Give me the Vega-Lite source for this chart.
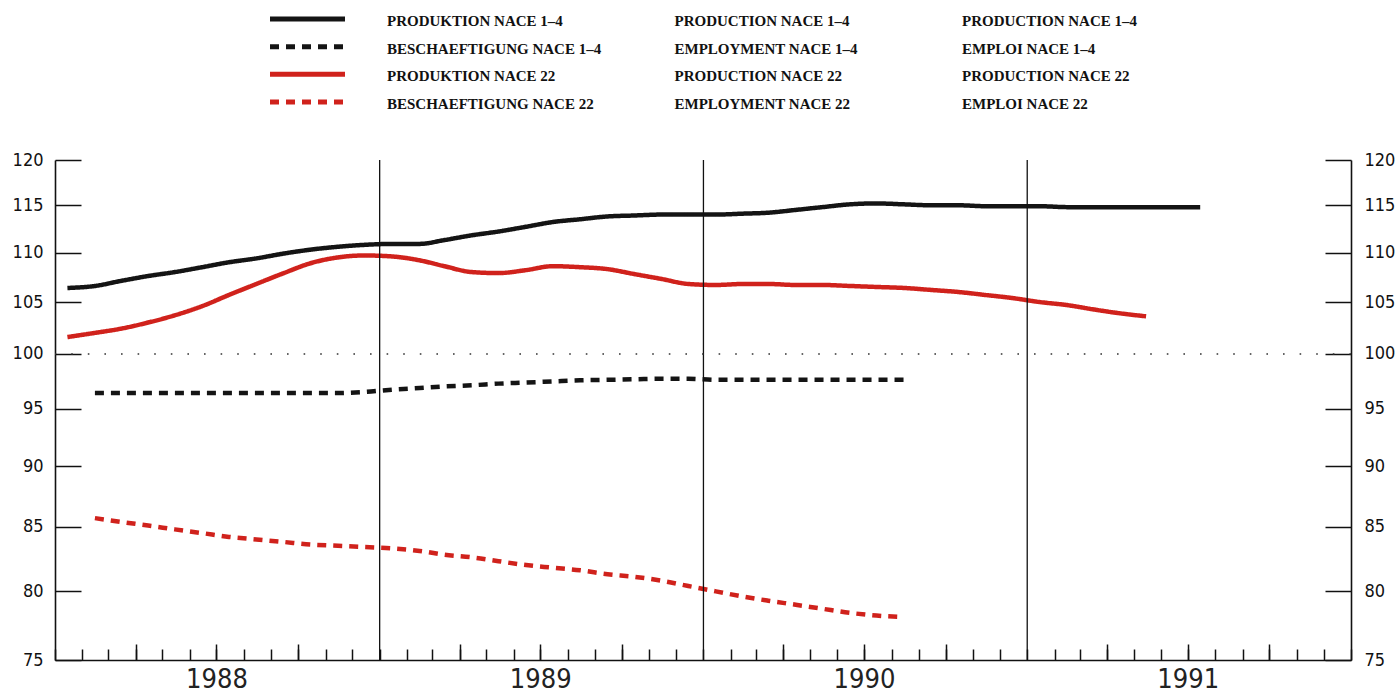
{
  "$schema": "https://vega.github.io/schema/vega-lite/v6.json",
  "width": 1296,
  "height": 500,
  "autosize": {"type": "none"},
  "padding": {"left": 55, "top": 160, "right": 46, "bottom": 35},
  "background": "#ffffff",
  "config": {"view": {"stroke": null}},
  "datasets": {
    "main": [
      {"d": "1988-01-15", "s": "P14", "v": 106.4}, {"d": "1988-02-15", "s": "P14", "v": 106.6}, {"d": "1988-03-15", "s": "P14", "v": 107.1}, {"d": "1988-04-15", "s": "P14", "v": 107.6}, {"d": "1988-05-15", "s": "P14", "v": 108.0}, {"d": "1988-06-15", "s": "P14", "v": 108.5}, {"d": "1988-07-15", "s": "P14", "v": 109.0}, {"d": "1988-08-15", "s": "P14", "v": 109.4}, {"d": "1988-09-15", "s": "P14", "v": 109.9}, {"d": "1988-10-15", "s": "P14", "v": 110.3}, {"d": "1988-11-15", "s": "P14", "v": 110.6}, {"d": "1988-12-15", "s": "P14", "v": 110.8},
      {"d": "1989-01-15", "s": "P14", "v": 110.9}, {"d": "1989-02-15", "s": "P14", "v": 110.9}, {"d": "1989-03-15", "s": "P14", "v": 111.3}, {"d": "1989-04-15", "s": "P14", "v": 111.8}, {"d": "1989-05-15", "s": "P14", "v": 112.2}, {"d": "1989-06-15", "s": "P14", "v": 112.7}, {"d": "1989-07-15", "s": "P14", "v": 113.2}, {"d": "1989-08-15", "s": "P14", "v": 113.5}, {"d": "1989-09-15", "s": "P14", "v": 113.8}, {"d": "1989-10-15", "s": "P14", "v": 113.9}, {"d": "1989-11-15", "s": "P14", "v": 114.0}, {"d": "1989-12-15", "s": "P14", "v": 114.0},
      {"d": "1990-01-15", "s": "P14", "v": 114.0}, {"d": "1990-02-15", "s": "P14", "v": 114.1}, {"d": "1990-03-15", "s": "P14", "v": 114.2}, {"d": "1990-04-15", "s": "P14", "v": 114.5}, {"d": "1990-05-15", "s": "P14", "v": 114.8}, {"d": "1990-06-15", "s": "P14", "v": 115.1}, {"d": "1990-07-15", "s": "P14", "v": 115.2}, {"d": "1990-08-15", "s": "P14", "v": 115.1}, {"d": "1990-09-15", "s": "P14", "v": 115.0}, {"d": "1990-10-15", "s": "P14", "v": 115.0}, {"d": "1990-11-15", "s": "P14", "v": 114.9}, {"d": "1990-12-15", "s": "P14", "v": 114.9},
      {"d": "1991-01-15", "s": "P14", "v": 114.9}, {"d": "1991-02-15", "s": "P14", "v": 114.8}, {"d": "1991-03-15", "s": "P14", "v": 114.8}, {"d": "1991-04-15", "s": "P14", "v": 114.8}, {"d": "1991-05-15", "s": "P14", "v": 114.8}, {"d": "1991-06-15", "s": "P14", "v": 114.8}, {"d": "1991-07-15", "s": "P14", "v": 114.8},

      {"d": "1988-01-15", "s": "P22", "v": 101.6}, {"d": "1988-02-15", "s": "P22", "v": 102.0}, {"d": "1988-03-15", "s": "P22", "v": 102.4}, {"d": "1988-04-15", "s": "P22", "v": 103.0}, {"d": "1988-05-15", "s": "P22", "v": 103.7}, {"d": "1988-06-15", "s": "P22", "v": 104.6}, {"d": "1988-07-15", "s": "P22", "v": 105.7}, {"d": "1988-08-15", "s": "P22", "v": 106.8}, {"d": "1988-09-15", "s": "P22", "v": 107.9}, {"d": "1988-10-15", "s": "P22", "v": 108.9}, {"d": "1988-11-15", "s": "P22", "v": 109.5}, {"d": "1988-12-15", "s": "P22", "v": 109.7},
      {"d": "1989-01-15", "s": "P22", "v": 109.6}, {"d": "1989-02-15", "s": "P22", "v": 109.2}, {"d": "1989-03-15", "s": "P22", "v": 108.6}, {"d": "1989-04-15", "s": "P22", "v": 108.0}, {"d": "1989-05-15", "s": "P22", "v": 107.9}, {"d": "1989-06-15", "s": "P22", "v": 108.2}, {"d": "1989-07-15", "s": "P22", "v": 108.6}, {"d": "1989-08-15", "s": "P22", "v": 108.5}, {"d": "1989-09-15", "s": "P22", "v": 108.3}, {"d": "1989-10-15", "s": "P22", "v": 107.8}, {"d": "1989-11-15", "s": "P22", "v": 107.3}, {"d": "1989-12-15", "s": "P22", "v": 106.8},
      {"d": "1990-01-15", "s": "P22", "v": 106.7}, {"d": "1990-02-15", "s": "P22", "v": 106.8}, {"d": "1990-03-15", "s": "P22", "v": 106.8}, {"d": "1990-04-15", "s": "P22", "v": 106.7}, {"d": "1990-05-15", "s": "P22", "v": 106.7}, {"d": "1990-06-15", "s": "P22", "v": 106.6}, {"d": "1990-07-15", "s": "P22", "v": 106.5}, {"d": "1990-08-15", "s": "P22", "v": 106.4}, {"d": "1990-09-15", "s": "P22", "v": 106.2}, {"d": "1990-10-15", "s": "P22", "v": 106.0}, {"d": "1990-11-15", "s": "P22", "v": 105.7}, {"d": "1990-12-15", "s": "P22", "v": 105.4},
      {"d": "1991-01-15", "s": "P22", "v": 105.0}, {"d": "1991-02-15", "s": "P22", "v": 104.7}, {"d": "1991-03-15", "s": "P22", "v": 104.3}, {"d": "1991-04-15", "s": "P22", "v": 103.9}, {"d": "1991-05-15", "s": "P22", "v": 103.6},

      {"d": "1988-02-15", "s": "E14", "v": 96.4}, {"d": "1988-03-15", "s": "E14", "v": 96.4}, {"d": "1988-04-15", "s": "E14", "v": 96.4}, {"d": "1988-05-15", "s": "E14", "v": 96.4}, {"d": "1988-06-15", "s": "E14", "v": 96.4}, {"d": "1988-07-15", "s": "E14", "v": 96.4}, {"d": "1988-08-15", "s": "E14", "v": 96.4}, {"d": "1988-09-15", "s": "E14", "v": 96.4}, {"d": "1988-10-15", "s": "E14", "v": 96.4}, {"d": "1988-11-15", "s": "E14", "v": 96.4}, {"d": "1988-12-15", "s": "E14", "v": 96.5},
      {"d": "1989-01-15", "s": "E14", "v": 96.7}, {"d": "1989-02-15", "s": "E14", "v": 96.85}, {"d": "1989-03-15", "s": "E14", "v": 97.0}, {"d": "1989-04-15", "s": "E14", "v": 97.1}, {"d": "1989-05-15", "s": "E14", "v": 97.25}, {"d": "1989-06-15", "s": "E14", "v": 97.35}, {"d": "1989-07-15", "s": "E14", "v": 97.45}, {"d": "1989-08-15", "s": "E14", "v": 97.55}, {"d": "1989-09-15", "s": "E14", "v": 97.6}, {"d": "1989-10-15", "s": "E14", "v": 97.65}, {"d": "1989-11-15", "s": "E14", "v": 97.7}, {"d": "1989-12-15", "s": "E14", "v": 97.7},
      {"d": "1990-01-15", "s": "E14", "v": 97.6}, {"d": "1990-02-15", "s": "E14", "v": 97.6}, {"d": "1990-03-15", "s": "E14", "v": 97.6}, {"d": "1990-04-15", "s": "E14", "v": 97.6}, {"d": "1990-05-15", "s": "E14", "v": 97.6}, {"d": "1990-06-15", "s": "E14", "v": 97.6}, {"d": "1990-07-15", "s": "E14", "v": 97.6}, {"d": "1990-08-15", "s": "E14", "v": 97.6},

      {"d": "1988-02-15", "s": "E22", "v": 85.7}, {"d": "1988-03-15", "s": "E22", "v": 85.4}, {"d": "1988-04-15", "s": "E22", "v": 85.1}, {"d": "1988-05-15", "s": "E22", "v": 84.8}, {"d": "1988-06-15", "s": "E22", "v": 84.5}, {"d": "1988-07-15", "s": "E22", "v": 84.2}, {"d": "1988-08-15", "s": "E22", "v": 84.0}, {"d": "1988-09-15", "s": "E22", "v": 83.8}, {"d": "1988-10-15", "s": "E22", "v": 83.6}, {"d": "1988-11-15", "s": "E22", "v": 83.5}, {"d": "1988-12-15", "s": "E22", "v": 83.4},
      {"d": "1989-01-15", "s": "E22", "v": 83.3}, {"d": "1989-02-15", "s": "E22", "v": 83.1}, {"d": "1989-03-15", "s": "E22", "v": 82.8}, {"d": "1989-04-15", "s": "E22", "v": 82.6}, {"d": "1989-05-15", "s": "E22", "v": 82.3}, {"d": "1989-06-15", "s": "E22", "v": 82.0}, {"d": "1989-07-15", "s": "E22", "v": 81.8}, {"d": "1989-08-15", "s": "E22", "v": 81.6}, {"d": "1989-09-15", "s": "E22", "v": 81.3}, {"d": "1989-10-15", "s": "E22", "v": 81.1}, {"d": "1989-11-15", "s": "E22", "v": 80.8}, {"d": "1989-12-15", "s": "E22", "v": 80.4},
      {"d": "1990-01-15", "s": "E22", "v": 80.0}, {"d": "1990-02-15", "s": "E22", "v": 79.6}, {"d": "1990-03-15", "s": "E22", "v": 79.3}, {"d": "1990-04-15", "s": "E22", "v": 79.0}, {"d": "1990-05-15", "s": "E22", "v": 78.7}, {"d": "1990-06-15", "s": "E22", "v": 78.4}, {"d": "1990-07-15", "s": "E22", "v": 78.2}, {"d": "1990-08-15", "s": "E22", "v": 78.1}
    ],
    "years": [{"d": "1989-01-01"}, {"d": "1990-01-01"}, {"d": "1991-01-01"}],
    "ref": [{"v": 100}],
    "legsym": [
      {"s": "P14", "k": 0}, {"s": "P14", "k": 1},
      {"s": "E14", "k": 0}, {"s": "E14", "k": 1},
      {"s": "P22", "k": 0}, {"s": "P22", "k": 1},
      {"s": "E22", "k": 0}, {"s": "E22", "k": 1}
    ],
    "legtxt": [
      {"s": "P14", "lang": "de", "t": "PRODUKTION NACE 1–4"},
      {"s": "E14", "lang": "de", "t": "BESCHAEFTIGUNG NACE 1–4"},
      {"s": "P22", "lang": "de", "t": "PRODUKTION NACE 22"},
      {"s": "E22", "lang": "de", "t": "BESCHAEFTIGUNG NACE 22"},
      {"s": "P14", "lang": "en", "t": "PRODUCTION NACE 1–4"},
      {"s": "E14", "lang": "en", "t": "EMPLOYMENT NACE 1–4"},
      {"s": "P22", "lang": "en", "t": "PRODUCTION NACE 22"},
      {"s": "E22", "lang": "en", "t": "EMPLOYMENT NACE 22"},
      {"s": "P14", "lang": "fr", "t": "PRODUCTION NACE 1–4"},
      {"s": "E14", "lang": "fr", "t": "EMPLOI NACE 1–4"},
      {"s": "P22", "lang": "fr", "t": "PRODUCTION NACE 22"},
      {"s": "E22", "lang": "fr", "t": "EMPLOI NACE 22"}
    ]
  },
  "layer": [
    {
      "layer": [
        {
          "data": {"name": "main"},
          "mark": {"type": "line", "interpolate": "monotone", "strokeWidth": 4.5},
          "encoding": {
            "x": {
              "field": "d", "type": "temporal",
              "scale": {"type": "utc", "domain": [{"year": 1988, "month": 1, "date": 1, "utc": true}, {"year": 1992, "month": 1, "date": 1, "utc": true}]},
              "axis": {"orient": "bottom", "title": null, "labels": false, "grid": false, "tickCount": {"interval": "month", "step": 1}, "tickSize": -11, "tickWidth": 1.5, "tickColor": "#111", "domain": true, "domainColor": "#111", "domainWidth": 1.6}
            },
            "y": {
              "field": "v", "type": "quantitative",
              "scale": {"type": "log", "domain": [75, 120], "nice": false},
              "axis": {"orient": "left", "title": null, "grid": false, "values": [75, 80, 85, 90, 95, 100, 105, 110, 115, 120], "tickSize": -26, "tickWidth": 1.5, "tickColor": "#111", "domainColor": "#111", "domainWidth": 1.6, "labelPadding": 38, "labelFlush": false, "labelFont": "DejaVu Sans Condensed, sans-serif", "labelFontSize": 18, "labelColor": "#111"}
            },
            "color": {"field": "s", "type": "nominal", "scale": {"domain": ["P14", "E14", "P22", "E22"], "range": ["#141414", "#141414", "#d0221c", "#d0221c"]}, "legend": null},
            "strokeDash": {"field": "s", "type": "nominal", "scale": {"domain": ["P14", "E14", "P22", "E22"], "range": [[1, 0], [9, 7], [1, 0], [9, 7]]}, "legend": null}
          }
        },
        {
          "data": {"name": "years"},
          "mark": {"type": "rule", "color": "#111", "strokeWidth": 1.3},
          "encoding": {
            "x": {
              "field": "d", "type": "temporal",
              "scale": {"type": "utc", "domain": [{"year": 1988, "month": 1, "date": 1, "utc": true}, {"year": 1992, "month": 1, "date": 1, "utc": true}]},
              "axis": {
                "orient": "bottom", "title": null, "grid": false, "domain": false,
                "values": [
                  {"year": 1988, "month": 4, "date": 1, "utc": true}, {"year": 1988, "month": 7, "date": 1, "utc": true}, {"year": 1988, "month": 10, "date": 1, "utc": true},
                  {"year": 1989, "month": 4, "date": 1, "utc": true}, {"year": 1989, "month": 7, "date": 1, "utc": true}, {"year": 1989, "month": 10, "date": 1, "utc": true},
                  {"year": 1990, "month": 4, "date": 1, "utc": true}, {"year": 1990, "month": 7, "date": 1, "utc": true}, {"year": 1990, "month": 10, "date": 1, "utc": true},
                  {"year": 1991, "month": 4, "date": 1, "utc": true}, {"year": 1991, "month": 7, "date": 1, "utc": true}, {"year": 1991, "month": 10, "date": 1, "utc": true}
                ],
                "labelExpr": "utcmonth(datum.value) == 6 ? utcFormat(datum.value, '%Y') : ''",
                "labelOverlap": false, "labelFlush": false,
                "tickSize": -16, "tickWidth": 1.5, "tickColor": "#111",
                "labelPadding": 22, "labelFont": "DejaVu Sans Condensed, sans-serif", "labelFontSize": 27, "labelColor": "#222"
              }
            }
          }
        },
        {
          "data": {"name": "ref"},
          "mark": {"type": "rule", "color": "#333", "strokeWidth": 1.6, "strokeDash": [1.6, 15]},
          "encoding": {
            "y": {
              "field": "v", "type": "quantitative",
              "scale": {"type": "log", "domain": [75, 120], "nice": false},
              "axis": {"orient": "right", "title": null, "grid": false, "values": [75, 80, 85, 90, 95, 100, 105, 110, 115, 120], "tickSize": -26, "tickWidth": 1.5, "tickColor": "#111", "domainColor": "#111", "domainWidth": 1.6, "labelPadding": 39, "labelFlush": false, "labelFont": "DejaVu Sans Condensed, sans-serif", "labelFontSize": 18, "labelColor": "#111"}
            }
          }
        }
      ],
      "resolve": {"axis": {"x": "independent", "y": "independent"}}
    },
    {
      "data": {"name": "legsym"},
      "mark": {"type": "line", "strokeWidth": 5},
      "encoding": {
        "x": {"field": "k", "type": "quantitative", "scale": {"domain": [0, 1], "range": [215, 290]}, "axis": null},
        "y": {"field": "s", "type": "nominal", "scale": {"type": "point", "domain": ["P14", "E14", "P22", "E22"], "range": [-141, -58], "padding": 0}, "axis": null},
        "color": {"field": "s", "type": "nominal", "legend": null},
        "strokeDash": {"field": "s", "type": "nominal", "legend": null}
      }
    },
    {
      "data": {"name": "legtxt"},
      "mark": {"type": "text", "align": "left", "baseline": "middle", "font": "Liberation Serif", "fontWeight": "bold", "fontSize": 15, "color": "#111", "dy": 2},
      "encoding": {
        "x": {"field": "lang", "type": "nominal", "scale": {"type": "point", "domain": ["de", "en", "fr"], "range": [332, 907], "padding": 0}, "axis": null},
        "y": {"field": "s", "type": "nominal", "scale": {"type": "point", "domain": ["P14", "E14", "P22", "E22"], "range": [-141, -58], "padding": 0}, "axis": null},
        "text": {"field": "t"}
      }
    }
  ],
  "resolve": {"scale": {"x": "independent", "y": "independent"}}
}
